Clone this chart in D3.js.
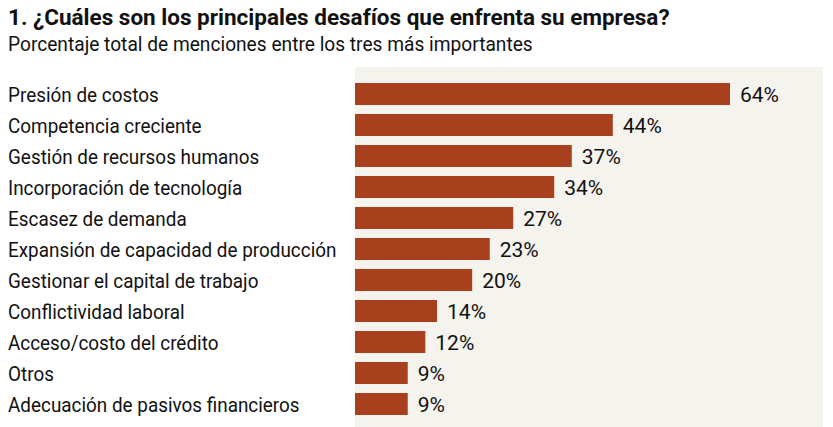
<!DOCTYPE html>
<html><head><meta charset="utf-8">
<script src="https://cdn.jsdelivr.net/npm/d3@7/dist/d3.min.js"></script>
<style>body{margin:0;background:#fff;} svg{display:block;}</style>
</head><body>
<svg id="c" width="833" height="427"></svg>
<script>
const title = "1. ¿Cuáles son los principales desafíos que enfrenta su empresa?";
const subtitle = "Porcentaje total de menciones entre los tres más importantes";
const categories = ["Presión de costos","Competencia creciente","Gestión de recursos humanos","Incorporación de tecnología","Escasez de demanda","Expansión de capacidad de producción","Gestionar el capital de trabajo","Conflictividad laboral","Acceso/costo del crédito","Otros","Adecuación de pasivos financieros"];
const values = [64,44,37,34,27,23,20,14,12,9,9];

const svg = d3.select("#c");
const font = "Roboto, 'Noto Sans', sans-serif";
const panelX = 355, panelTop = 67, panelRight = 823;

svg.append("rect").attr("x", panelX).attr("y", panelTop).attr("width", panelRight - panelX).attr("height", 427 - panelTop).attr("fill", "#f5f3ee");

const x = d3.scaleLinear().domain([0, 64]).range([panelX, 730]);
const y = d3.scaleBand().domain(categories).range([78.5, 419.5]).paddingInner(0.29).paddingOuter(0.145);

svg.append("text").attr("x", 8).attr("y", 25).text(title)
  .attr("font-family", font).attr("font-weight", 700).attr("font-size", 22.5).attr("fill", "#111");
svg.append("g").attr("transform", "translate(8,51) scale(0.935,1)")
  .append("text").attr("x", 0).attr("y", 0).text(subtitle)
  .attr("font-family", font).attr("font-weight", 400).attr("font-size", 20.5).attr("fill", "#111");

svg.selectAll("rect.bar").data(values).join("rect").attr("class","bar")
  .attr("x", x(0)).attr("y", (d,i) => y(categories[i]))
  .attr("width", d => x(d) - x(0)).attr("height", y.bandwidth()).attr("fill", "#a9401d");

const lab = svg.append("g").attr("transform", "translate(8,0) scale(0.9,1)");
lab.selectAll("text.cat").data(categories).join("text").attr("class","cat")
  .attr("x", 0).attr("y", d => y(d) + y.bandwidth()/2 + 1).attr("dominant-baseline","central")
  .attr("font-family", font).attr("font-size", 21).attr("fill", "#111").text(d => d);

svg.selectAll("text.val").data(values).join("text").attr("class","val")
  .attr("x", d => x(d) + 10).attr("y", (d,i) => y(categories[i]) + y.bandwidth()/2 + 1).attr("dominant-baseline","central")
  .attr("font-family", font).attr("font-weight", 400).attr("font-size", 21).attr("fill", "#111").text(d => d + "%");
</script>
</body></html>
